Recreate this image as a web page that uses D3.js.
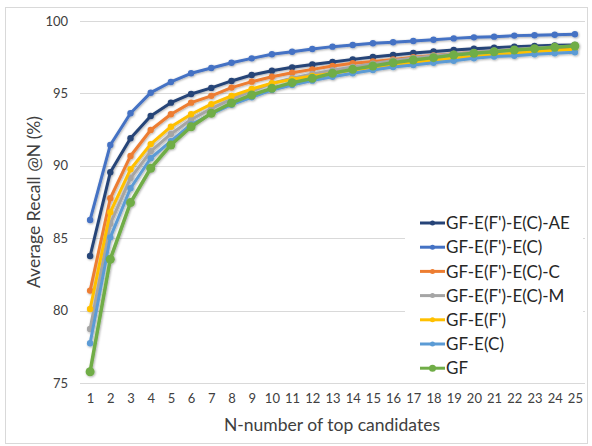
<!DOCTYPE html>
<html>
<head>
<meta charset="utf-8">
<script src="https://cdn.jsdelivr.net/npm/d3@7"></script>
<style>
  body { margin: 0; background: #fff; }
  text { font-family: Lato, "Open Sans", sans-serif; }
</style>
</head>
<body>
<div id="chart"></div>
<script>
// data
var ns = d3.range(1, 26);
var seriesNames = ["GF-E(F')-E(C)-AE", "GF-E(F')-E(C)", "GF-E(F')-E(C)-C", "GF-E(F')-E(C)-M", "GF-E(F')", "GF-E(C)", "GF"];
var seriesColors = ["#264478", "#4472C4", "#ED7D31", "#A5A5A5", "#FFC000", "#5B9BD5", "#70AD47"];
var recallAE = [83.77, 89.55, 91.9, 93.44, 94.36, 94.96, 95.38, 95.86, 96.27, 96.57, 96.8, 97.0, 97.17, 97.35, 97.52, 97.65, 97.79, 97.9, 98.0, 98.09, 98.16, 98.23, 98.27, 98.32, 98.35];
var recallFC = [86.26, 91.44, 93.63, 95.05, 95.79, 96.39, 96.75, 97.12, 97.42, 97.7, 97.88, 98.07, 98.23, 98.34, 98.46, 98.53, 98.62, 98.71, 98.8, 98.87, 98.92, 98.99, 99.02, 99.05, 99.08];
var recallC = [81.38, 87.76, 90.68, 92.47, 93.56, 94.36, 94.83, 95.4, 95.81, 96.15, 96.43, 96.66, 96.89, 97.08, 97.2, 97.35, 97.5, 97.62, 97.73, 97.83, 97.92, 98.0, 98.07, 98.13, 98.2];
var recallM = [78.73, 86.0, 89.15, 91.0, 92.2, 93.2, 93.95, 94.6, 95.15, 95.7, 96.05, 96.35, 96.6, 96.82, 97.05, 97.28, 97.45, 97.6, 97.73, 97.85, 97.95, 98.05, 98.13, 98.2, 98.27];
var recallF = [80.11, 86.8, 89.76, 91.5, 92.7, 93.56, 94.26, 94.82, 95.3, 95.7, 95.97, 96.2, 96.39, 96.62, 96.78, 96.98, 97.15, 97.3, 97.42, 97.55, 97.67, 97.78, 97.88, 97.97, 98.05];
var recallE = [77.74, 85.06, 88.45, 90.52, 91.7, 92.85, 93.58, 94.22, 94.73, 95.24, 95.58, 95.88, 96.15, 96.39, 96.62, 96.82, 96.96, 97.12, 97.26, 97.42, 97.54, 97.6, 97.7, 97.77, 97.84];
var recallGF = [75.78, 83.55, 87.46, 89.83, 91.44, 92.7, 93.63, 94.34, 94.89, 95.35, 95.74, 96.04, 96.39, 96.66, 96.89, 97.12, 97.31, 97.47, 97.65, 97.77, 97.88, 98.0, 98.09, 98.18, 98.27];
var allSeries = [recallAE, recallFC, recallC, recallM, recallF, recallE, recallGF];
var yTicks = [75, 80, 85, 90, 95, 100];

var W = 592, H = 446;
var svg = d3.select("#chart").append("svg")
  .attr("width", W)
  .attr("height", H);

// soft shadow under the lines, like the office chart
var defs = svg.append("defs");
defs.append("filter")
  .attr("id", "shadow")
  .attr("x", "-5%").attr("y", "-5%").attr("width", "110%").attr("height", "110%")
  .append("feDropShadow")
  .attr("dx", 0.8).attr("dy", 0.8)
  .attr("stdDeviation", 1)
  .attr("flood-color", "#000")
  .attr("flood-opacity", 0.35);

// chart border
svg.append("rect")
  .attr("x", 5.5).attr("y", 7.5)
  .attr("width", 582).attr("height", 436)
  .attr("fill", "#fff")
  .attr("stroke", "#D9D9D9");

var x = d3.scalePoint()
  .domain(ns)
  .range([80, 585])
  .padding(0.5);

var y = d3.scaleLinear()
  .domain([75, 100])
  .range([383, 21]);

// gridlines
svg.append("g")
  .selectAll("line")
  .data(yTicks)
  .enter()
  .append("line")
  .attr("x1", 80).attr("x2", 585)
  .attr("y1", function (d) { return Math.round(y(d)) + 0.5; })
  .attr("y2", function (d) { return Math.round(y(d)) + 0.5; })
  .attr("stroke", "#D9D9D9")
  .attr("stroke-width", 1);

// Y axis labels
var yAxis = svg.append("g")
  .attr("transform", "translate(80,0)")
  .call(d3.axisLeft(y).tickValues(yTicks).tickSize(0).tickPadding(12));
yAxis.select(".domain").remove();
yAxis.selectAll("text")
  .attr("fill", "#404040")
  .style("font-size", "13px");

// X axis labels
var xAxis = svg.append("g")
  .attr("transform", "translate(0,383)")
  .call(d3.axisBottom(x).tickSize(0).tickPadding(11));
xAxis.select(".domain").remove();
xAxis.selectAll("text")
  .attr("fill", "#404040")
  .style("font-size", "13px");

// axis titles
svg.append("text")
  .attr("transform", "translate(40,202)rotate(-90)")
  .attr("text-anchor", "middle")
  .attr("fill", "#404040")
  .style("font-size", "17.5px")
  .text("Average Recall @N (%)");

svg.append("text")
  .attr("x", 332)
  .attr("y", 431)
  .attr("text-anchor", "middle")
  .attr("fill", "#404040")
  .style("font-size", "17.5px")
  .text("N-number of top candidates");

// lines
var line = d3.line()
  .x(function (d, i) { return x(ns[i]); })
  .y(function (d) { return y(d); });

var plot = svg.append("g").attr("filter", "url(#shadow)");
allSeries.forEach(function (vals, k) {
  var g = plot.append("g");
  g.append("path")
    .datum(vals)
    .attr("d", line)
    .attr("fill", "none")
    .attr("stroke", seriesColors[k])
    .attr("stroke-width", k == 6 ? 3.5 : 3)
    .attr("stroke-linejoin", "round");
  g.selectAll("circle")
    .data(vals)
    .enter()
    .append("circle")
    .attr("cx", function (d, i) { return x(ns[i]); })
    .attr("cy", function (d) { return y(d); })
    .attr("r", k == 6 ? 4.5 : 3.2)
    .attr("fill", seriesColors[k]);
});

// legend
var legend = svg.append("g");
legend.append("rect")
  .attr("x", 405).attr("y", 208)
  .attr("width", 178).attr("height", 172)
  .attr("fill", "#fff");
var items = legend.selectAll("g.item")
  .data(seriesNames)
  .enter()
  .append("g")
  .attr("class", "item")
  .attr("transform", function (d, i) { return "translate(420," + (223 + i * 24.2) + ")"; });
items.append("line")
  .attr("x1", 0).attr("x2", 25)
  .attr("stroke", function (d, i) { return seriesColors[i]; })
  .attr("stroke-width", 3);
items.append("circle")
  .attr("cx", 12.5)
  .attr("r", function (d, i) { return i == 6 ? 3.5 : 2.5; })
  .attr("fill", function (d, i) { return seriesColors[i]; });
items.append("text")
  .attr("x", 26)
  .attr("dy", "0.36em")
  .attr("fill", "#262626")
  .style("font-size", "17px")
  .text(function (d) { return d; });
</script>
</body>
</html>
